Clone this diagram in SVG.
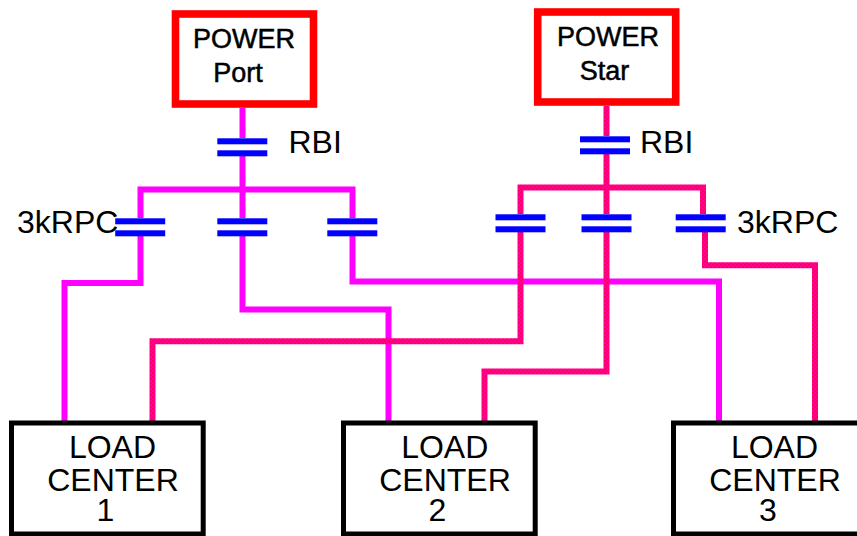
<svg xmlns="http://www.w3.org/2000/svg" width="857" height="536" viewBox="0 0 857 536">
<style>
.port{fill:none;stroke:#ff00ff;stroke-width:6;stroke-linejoin:miter}
.star{fill:none;stroke:url(#checker);stroke-width:6;stroke-linejoin:miter}
.cap{fill:#0000ff}
.pwr{fill:#fff;stroke:#ff0000;stroke-width:7.6}
.load{fill:#fff;stroke:#000;stroke-width:5}
text{font-family:"Liberation Sans",Arial,sans-serif;fill:#000}
.lbl{font-size:32px}
.pt{font-size:27px;stroke:#000;stroke-width:.5;text-anchor:middle}
.lt{font-size:32px;text-anchor:middle}
</style>
<defs>
<pattern id="checker" width="4" height="4" patternUnits="userSpaceOnUse"><rect width="4" height="4" fill="#ff00a0"/><rect width="2" height="2" fill="#ff0060"/><rect x="2" y="2" width="2" height="2" fill="#ff0060"/></pattern>
<g id="capacitor"><rect class="cap" x="0" y="0" width="50" height="6"/><rect class="cap" x="0" y="12" width="50" height="6"/></g>
</defs>
<g id="connectors">
<path class="port" d="M242.5 108V138M242.5 156V218M242.5 236V309.5H388.5V421"/>
<path class="port" d="M140.5 218V189.5H352.5V218"/>
<path class="port" d="M140.5 236V283H64.5V421"/>
<path class="port" d="M352.5 236V281.5H719V421"/>
<path class="star" d="M606.5 106V136M606.5 154V214M606.5 232V371.5H484.5V421"/>
<path class="star" d="M520.5 214V187.5H703V214"/>
<path class="star" d="M520.5 232V341.3H152.5V421"/>
<path class="star" d="M705 232V265.3H815V421"/>
</g>
<g id="power-port"><rect class="pwr" x="175.5" y="14" width="138" height="90"/><text class="pt" x="244" y="48">POWER</text><text class="pt" x="238" y="81.5">Port</text></g>
<g id="power-star"><rect class="pwr" x="537.7" y="12" width="138" height="90"/><text class="pt" x="608" y="45.5">POWER</text><text class="pt" x="604.5" y="79.5">Star</text></g>
<g id="breakers">
<use href="#capacitor" x="217.3" y="138.3"/>
<use href="#capacitor" x="115.2" y="218.3"/>
<use href="#capacitor" x="217.3" y="218.3"/>
<use href="#capacitor" x="327.3" y="218.3"/>
<use href="#capacitor" x="580" y="136.3"/>
<use href="#capacitor" x="495.5" y="214.3"/>
<use href="#capacitor" x="581.5" y="214.3"/>
<use href="#capacitor" x="675.7" y="214.3"/>
</g>
<g id="load-center-1"><rect class="load" x="11.5" y="423" width="191.7" height="111"/><text class="lt" x="112.5" y="458.3">LOAD</text><text class="lt" x="113" y="490.5">CENTER</text><text class="lt" x="105.5" y="520.7">1</text></g>
<g id="load-center-2"><rect class="load" x="343.5" y="423" width="191.7" height="111"/><text class="lt" x="444.7" y="458.3">LOAD</text><text class="lt" x="445" y="490.5">CENTER</text><text class="lt" x="437.5" y="520.7">2</text></g>
<g id="load-center-3"><rect class="load" x="673.5" y="423" width="191.7" height="111"/><text class="lt" x="774.5" y="458.3">LOAD</text><text class="lt" x="775" y="490.5">CENTER</text><text class="lt" x="768" y="520.7">3</text></g>
<g id="labels">
<text class="lbl" x="288.5" y="152.7">RBI</text>
<text class="lbl" x="640" y="152.7">RBI</text>
<text class="lbl" x="17" y="232.7">3kRPC</text>
<text class="lbl" x="737" y="232.7">3kRPC</text>
</g>
</svg>
